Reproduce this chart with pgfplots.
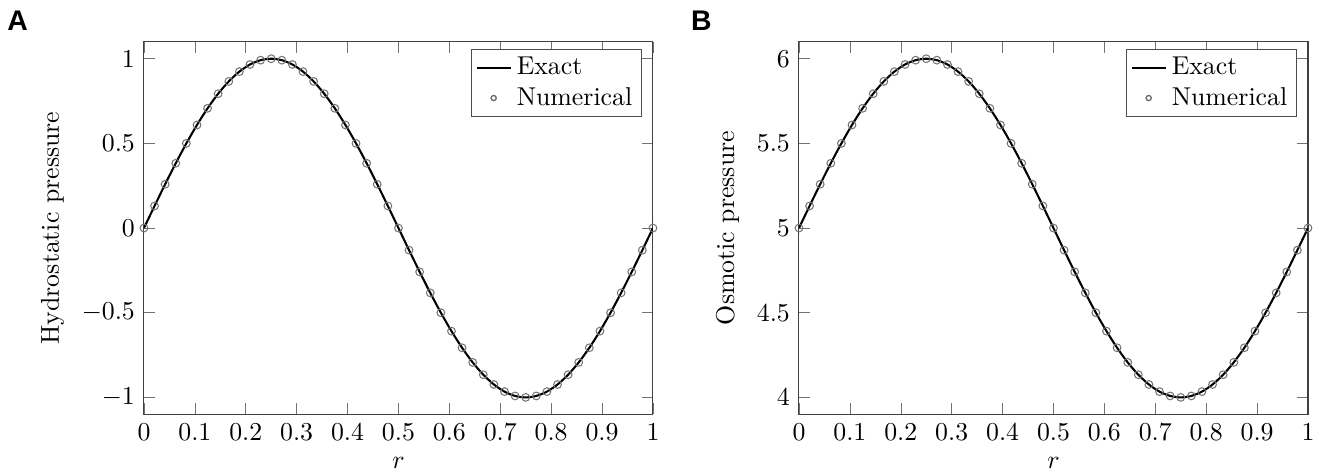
\documentclass[border=0pt]{standalone}
\usepackage{fontspec}
\usepackage{pgfplots}
\usepackage{pgfplotstable}
\pgfplotsset{compat=1.18}
\newfontfamily\panelfont{Liberation Sans}
\pgfplotstableread{
r p o
0.000000 0.00000 5.00000
0.020833 0.13053 5.13053
0.041667 0.25882 5.25882
0.062500 0.38268 5.38268
0.083333 0.50000 5.50000
0.104167 0.60876 5.60876
0.125000 0.70711 5.70711
0.145833 0.79335 5.79335
0.166667 0.86603 5.86603
0.187500 0.92388 5.92388
0.208333 0.96593 5.96593
0.229167 0.99144 5.99144
0.250000 1.00000 6.00000
0.270833 0.99144 5.99144
0.291667 0.96593 5.96593
0.312500 0.92388 5.92388
0.333333 0.86603 5.86603
0.354167 0.79335 5.79335
0.375000 0.70711 5.70711
0.395833 0.60876 5.60876
0.416667 0.50000 5.50000
0.437500 0.38268 5.38268
0.458333 0.25882 5.25882
0.479167 0.13053 5.13053
0.500000 0.00000 5.00000
0.520833 -0.13053 4.86947
0.541667 -0.25882 4.74118
0.562500 -0.38268 4.61732
0.583333 -0.50000 4.50000
0.604167 -0.60876 4.39124
0.625000 -0.70711 4.29289
0.645833 -0.79335 4.20665
0.666667 -0.86603 4.13397
0.687500 -0.92388 4.07612
0.708333 -0.96593 4.03407
0.729167 -0.99144 4.00856
0.750000 -1.00000 4.00000
0.770833 -0.99144 4.00856
0.791667 -0.96593 4.03407
0.812500 -0.92388 4.07612
0.833333 -0.86603 4.13397
0.854167 -0.79335 4.20665
0.875000 -0.70711 4.29289
0.895833 -0.60876 4.39124
0.916667 -0.50000 4.50000
0.937500 -0.38268 4.61732
0.958333 -0.25882 4.74118
0.979167 -0.13053 4.86947
1.000000 0.00000 5.00000
}\data
\begin{document}
\begin{tikzpicture}
\path[use as bounding box] (-55.8pt,-23.5pt) rectangle (457.8pt,160.6pt);
\pgfplotsset{
  every axis/.append style={
    width=197.3pt, height=144.4pt, scale only axis,
    xmin=0, xmax=1,
    xtick={0,0.1,0.2,0.3,0.4,0.5,0.6,0.7,0.8,0.9,1},
    xlabel={$r$},
    legend cell align=left,
    axis line style={black!75},
    tick style={black!55},
    legend style={at={(0.978,0.98)}, anchor=north east, draw=black!70,
      inner xsep=1.5pt, inner ysep=0.8pt, row sep=-0.6pt},
  },
  exactline/.style={black, thick, smooth, no marks,
    legend image code/.code={\draw[black, thick] (0cm,0cm) -- (0.46cm,0cm);}},
  nummarks/.style={black!55, only marks, mark=o, mark size=1.5pt,
    legend image code/.code={\draw[black!60, line width=0.5pt] (0.23cm,0cm) circle (1pt);}},
}
\begin{axis}[
  at={(0pt,0pt)}, anchor=south west,
  ymin=-1.1, ymax=1.1,
  ytick={-1,-0.5,0,0.5,1},
  ylabel={Hydrostatic pressure},
]
\addplot[exactline] table[x=r,y=p]{\data};
\addlegendentry{Exact}
\addplot[nummarks] table[x=r,y=p]{\data};
\addlegendentry{Numerical}
\end{axis}
\begin{axis}[
  at={(253.9pt,0pt)}, anchor=south west,
  ymin=3.9, ymax=6.1,
  ytick={4,4.5,5,5.5,6},
  ylabel={Osmotic pressure},
]
\addplot[exactline] table[x=r,y=o]{\data};
\addlegendentry{Exact}
\addplot[nummarks] table[x=r,y=o]{\data};
\addlegendentry{Numerical}
\end{axis}
\node[anchor=north west, inner sep=0pt, font=\panelfont\bfseries\fontsize{11}{13}\selectfont] at (-53.1pt,156.7pt) {A};
\node[anchor=north west, inner sep=0pt, font=\panelfont\bfseries\fontsize{11}{13}\selectfont] at (211.9pt,156.7pt) {B};
\end{tikzpicture}
\end{document}
